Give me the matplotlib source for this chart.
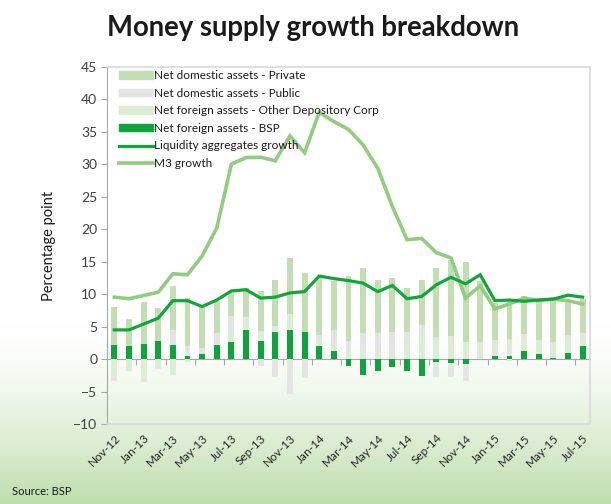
import numpy as np
import matplotlib.pyplot as plt
from matplotlib.patches import Patch
from matplotlib.lines import Line2D

plt.rcParams['font.family'] = ['Lato', 'DejaVu Sans']

months = ['Nov-12', 'Dec-12',
          'Jan-13', 'Feb-13', 'Mar-13', 'Apr-13', 'May-13', 'Jun-13',
          'Jul-13', 'Aug-13', 'Sep-13', 'Oct-13', 'Nov-13', 'Dec-13',
          'Jan-14', 'Feb-14', 'Mar-14', 'Apr-14', 'May-14', 'Jun-14',
          'Jul-14', 'Aug-14', 'Sep-14', 'Oct-14', 'Nov-14', 'Dec-14',
          'Jan-15', 'Feb-15', 'Mar-15', 'Apr-15', 'May-15', 'Jun-15', 'Jul-15']

# contributions in percentage points
nfa_bsp = [2.1, 1.95, 2.35, 2.8, 2.2, 0.5, 0.8, 2.25, 2.6, 4.5, 2.8, 4.1, 4.5, 4.1,
           2.05, 1.2, -1.0, -2.5, -1.9, -1.25, -1.8, -2.6, -0.5, -0.6, -0.8, 0.0,
           0.5, 0.5, 1.2, 0.85, 0.2, 1.0, 1.95]
nfa_odc = [-2.4, -1.9, -2.8, -1.6, -2.4, -0.45, 0.0, 0.0, 1.65, 2.05, 1.5, 1.0, 2.5, 0.0,
           0.65, 1.3, 1.3, 1.4, 1.25, 1.4, 2.2, 4.0, 3.4, 3.6, 2.6, 2.6,
           2.5, 2.6, 2.0, 2.1, 1.85, 1.65, 1.15]
nda_public = [-1.0, 0.0, -0.7, 0.0, 2.3, 1.55, 0.9, 1.75, 2.4, 0.0, -1.1, -2.7, -5.4, -2.9,
              1.0, 2.05, 1.55, 2.6, 2.8, 2.8, 1.95, 1.3, -2.2, -2.2, -2.6, 0.0,
              0.0, -0.35, 0.6, 0.0, 0.55, 1.05, 0.95]
nda_private = [5.9, 4.3, 6.5, 5.0, 6.7, 7.35, 6.3, 4.9, 3.5, 4.4, 6.2, 7.1, 8.6, 9.1,
               8.8, 7.45, 10.0, 10.0, 8.15, 8.3, 6.85, 6.9, 10.7, 11.6, 12.3, 9.4,
               5.6, 5.7, 5.9, 6.15, 6.5, 5.3, 5.2]

liquidity = [4.5, 4.5, 5.4, 6.3, 9.0, 9.0, 8.1, 9.1, 10.5, 10.7, 9.4, 9.55, 10.2, 10.4,
             12.8, 12.4, 12.1, 11.7, 10.4, 11.35, 9.3, 9.65, 11.45, 12.6, 11.6, 13.0,
             9.0, 9.1, 8.9, 9.1, 9.25, 9.85, 9.55]
m3 = [9.55, 9.3, 9.8, 10.3, 13.15, 13.0, 15.9, 20.2, 30.05, 31.05, 31.1, 30.55, 34.4, 31.8,
      38.0, 36.6, 35.4, 33.0, 29.4, 23.5, 18.4, 18.6, 16.4, 15.6, 9.4, 11.3,
      7.75, 8.5, 9.4, 9.05, 9.25, 9.0, 8.5]

c_private = '#c3deb3'
c_public = '#e4e4e4'
c_odc = '#ddedd5'
c_bsp = '#0fa33d'
c_liq = '#13a53c'
c_m3 = '#91cc80'
c_grid = '#d9d9d9'
c_axis = '#a6a6a6'
c_text = '#404040'

fig = plt.figure(figsize=(6.11, 5.04), dpi=100)

# white-to-green backdrop
bg = fig.add_axes([0, 0, 1, 1], zorder=-10)
rows = np.linspace(0, 1, 504)
t = np.clip((rows - 0.64) / 0.36, 0, 1) ** 1.5
top = np.array([1.0, 1.0, 1.0])
bottom = np.array([190, 221, 172]) / 255
grad = top[None, :] + (bottom - top)[None, :] * t[:, None]
bg.imshow(grad[:, None, :], aspect='auto', extent=(0, 1, 0, 1), origin='upper')
bg.axis('off')

ax = fig.add_axes([0.1751, 0.1587, 0.7905, 0.7083])
ax.set_facecolor('none')

x = np.arange(len(months))
width = 0.4

# stack positives upward and negatives downward, in series order
pos = np.zeros(len(x))
neg = np.zeros(len(x))
for vals, col in [(nfa_bsp, c_bsp), (nfa_odc, c_odc),
                  (nda_public, c_public), (nda_private, c_private)]:
    v = np.asarray(vals, dtype=float)
    base = np.where(v >= 0, pos, neg)
    ax.bar(x, v, width, bottom=base, color=col, zorder=2, linewidth=0)
    pos += np.clip(v, 0, None)
    neg += np.clip(v, None, 0)

ax.plot(x, m3, color=c_m3, lw=2.6, zorder=4, solid_joinstyle='miter')
ax.plot(x, liquidity, color=c_liq, lw=2.3, zorder=5, solid_joinstyle='miter')

ax.set_xlim(-0.5, len(months) - 0.5)
ax.set_ylim(-10, 45)
ax.set_yticks(np.arange(-10, 46, 5))
ax.tick_params(axis='y', length=4, color=c_axis, labelsize=10, labelcolor=c_text, pad=3)

ax.set_xticks(x[::2])
ax.set_xticklabels(months[::2], rotation=45, ha='right', va='top',
                   rotation_mode='anchor', fontsize=8.5, color='#262626')
ax.tick_params(axis='x', length=0, pad=6)

for side in ['top', 'right', 'bottom']:
    ax.spines[side].set_color(c_grid)
    ax.spines[side].set_linewidth(1.2)
ax.spines['left'].set_color(c_axis)

# category axis crossing at zero
zero_ax = ax.secondary_xaxis(0, transform=ax.transData)
zero_ax.set_xticks(np.arange(1.5, len(months), 2))
zero_ax.tick_params(length=4, color=c_axis, labelbottom=False)
zero_ax.spines['bottom'].set_color(c_axis)

ax.set_ylabel('Percentage point', fontsize=10.5, color='#1a1a1a', labelpad=12)

handles = [Patch(color=c_private), Patch(color=c_public), Patch(color=c_odc),
           Patch(color=c_bsp), Line2D([], [], color=c_liq, lw=2.3),
           Line2D([], [], color=c_m3, lw=2.6)]
labels = ['Net domestic assets - Private', 'Net domestic assets - Public',
          'Net foreign assets - Other Depository Corp', 'Net foreign assets - BSP',
          'Liquidity aggregates growth', 'M3 growth']
ax.legend(handles, labels, loc='upper left', bbox_to_anchor=(0.005, 1.018),
          frameon=False, fontsize=8.5, handlelength=2.9, handleheight=0.6,
          handletextpad=0.1, labelspacing=0.56, borderpad=0.3, labelcolor='#1a1a1a')

fig.text(0.512, 0.945, 'Money supply growth breakdown', ha='center', va='center',
         fontsize=19.8, fontweight='bold', color='#1a1a1a')
fig.text(0.02, 0.025, 'Source: BSP', ha='left', va='center', fontsize=8, color='#1a1a1a')

fig.savefig('out.png', dpi=100)
